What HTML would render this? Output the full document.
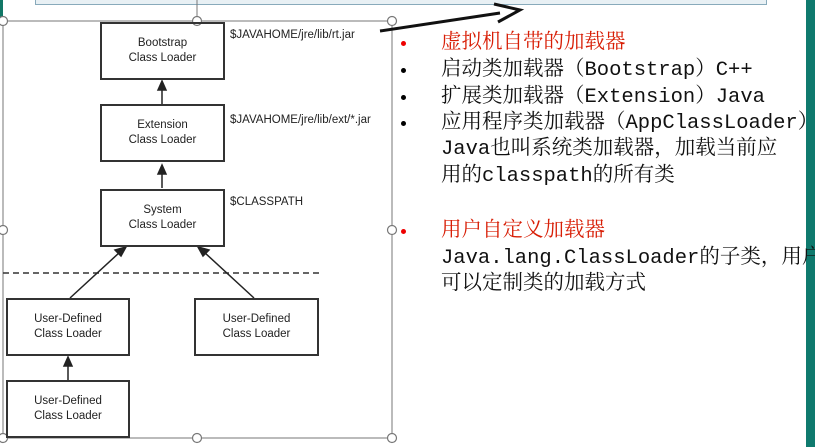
<html><head><style>
body{margin:0;width:815px;height:447px;background:#fff;position:relative;overflow:hidden;font-family:"Liberation Sans",sans-serif}
.b{position:absolute;border:2px solid #333;box-sizing:border-box;text-align:center;font-size:11.5px;color:#222;display:flex;align-items:center;justify-content:center;line-height:15px}
.l{position:absolute;font-size:11.5px;color:#222;left:230px}
.t{position:absolute;left:441px;font-size:20.5px;font-family:"Liberation Mono","Noto Serif CJK SC",monospace;color:#111;white-space:nowrap;line-height:26px}
.d{position:absolute;left:401px;width:5px;height:5px;border-radius:50%;background:#000}
.r{color:#d81e06}
</style></head><body>
<div style="position:absolute;left:35px;top:-3px;width:730px;height:6px;border:1px solid #8ab;background:#e8f0f4"></div>
<div style="position:absolute;left:806px;top:0;width:9px;height:447px;background:#0f7a6e"></div>
<div style="position:absolute;left:0;top:0;width:3px;height:20px;background:#176"></div>
<svg width="815" height="447" style="position:absolute;left:0;top:0">
<rect x="3" y="21" width="389" height="417" fill="none" stroke="#777" stroke-width="1"/>
<line x1="197" y1="0" x2="197" y2="21" stroke="#777"/>
<g fill="#fff" stroke="#777" stroke-width="1.2">
<circle cx="3" cy="21" r="4.5"/><circle cx="197" cy="21" r="4.5"/><circle cx="392" cy="21" r="4.5"/>
<circle cx="3" cy="230" r="4.5"/><circle cx="392" cy="230" r="4.5"/>
<circle cx="3" cy="438" r="4.5"/><circle cx="197" cy="438" r="4.5"/><circle cx="392" cy="438" r="4.5"/></g>
<line x1="3" y1="273" x2="322" y2="273" stroke="#333" stroke-width="1.5" stroke-dasharray="6,4"/>
<g stroke="#222" stroke-width="1.5" fill="#222">
<line x1="162" y1="104" x2="162" y2="88"/><polygon points="162,81 158,90 166,90"/>
<line x1="162" y1="188" x2="162" y2="172"/><polygon points="162,165 158,174 166,174"/>
<line x1="68" y1="380" x2="68" y2="364"/><polygon points="68,357 64,366 72,366"/>
<line x1="70" y1="298" x2="120" y2="252"/><polygon points="126,247 115,250 121,256"/>
<line x1="254" y1="298" x2="204" y2="252"/><polygon points="198,247 203,256 209,250"/>
</g>
<line x1="380" y1="31" x2="500" y2="13" stroke="#111" stroke-width="3"/>
<polyline points="494,4 520,10 498,22" fill="none" stroke="#111" stroke-width="3"/>
</svg>
<div class="b" style="left:100px;top:22px;width:125px;height:58px">Bootstrap<br>Class Loader</div>
<div class="b" style="left:100px;top:104px;width:125px;height:58px">Extension<br>Class Loader</div>
<div class="b" style="left:100px;top:189px;width:125px;height:58px">System<br>Class Loader</div>
<div class="b" style="left:6px;top:298px;width:124px;height:58px">User-Defined<br>Class Loader</div>
<div class="b" style="left:194px;top:298px;width:125px;height:58px">User-Defined<br>Class Loader</div>
<div class="b" style="left:6px;top:380px;width:124px;height:58px">User-Defined<br>Class Loader</div>
<div class="l" style="top:29px">$JAVAHOME/jre/lib/rt.jar</div>
<div class="l" style="top:114px">$JAVAHOME/jre/lib/ext/*.jar</div>
<div class="l" style="top:196px">$CLASSPATH</div>
<div class="d" style="top:41px;background:#e00"></div>
<div class="d" style="top:68px"></div><div class="d" style="top:95px"></div><div class="d" style="top:121px"></div>
<div class="d" style="top:229px;background:#e00"></div>
<div class="t r" style="top:31px">虚拟机自带的加载器</div>
<div class="t" style="top:58px">启动类加载器（Bootstrap）C++</div>
<div class="t" style="top:85px">扩展类加载器（Extension）Java</div>
<div class="t" style="top:111px">应用程序类加载器（AppClassLoader）</div>
<div class="t" style="top:137px">Java也叫系统类加载器，加载当前应</div>
<div class="t" style="top:164px">用的classpath的所有类</div>
<div class="t r" style="top:219px">用户自定义加载器</div>
<div class="t" style="top:246px">Java.lang.ClassLoader的子类，用户</div>
<div class="t" style="top:272px">可以定制类的加载方式</div>
</body></html>
